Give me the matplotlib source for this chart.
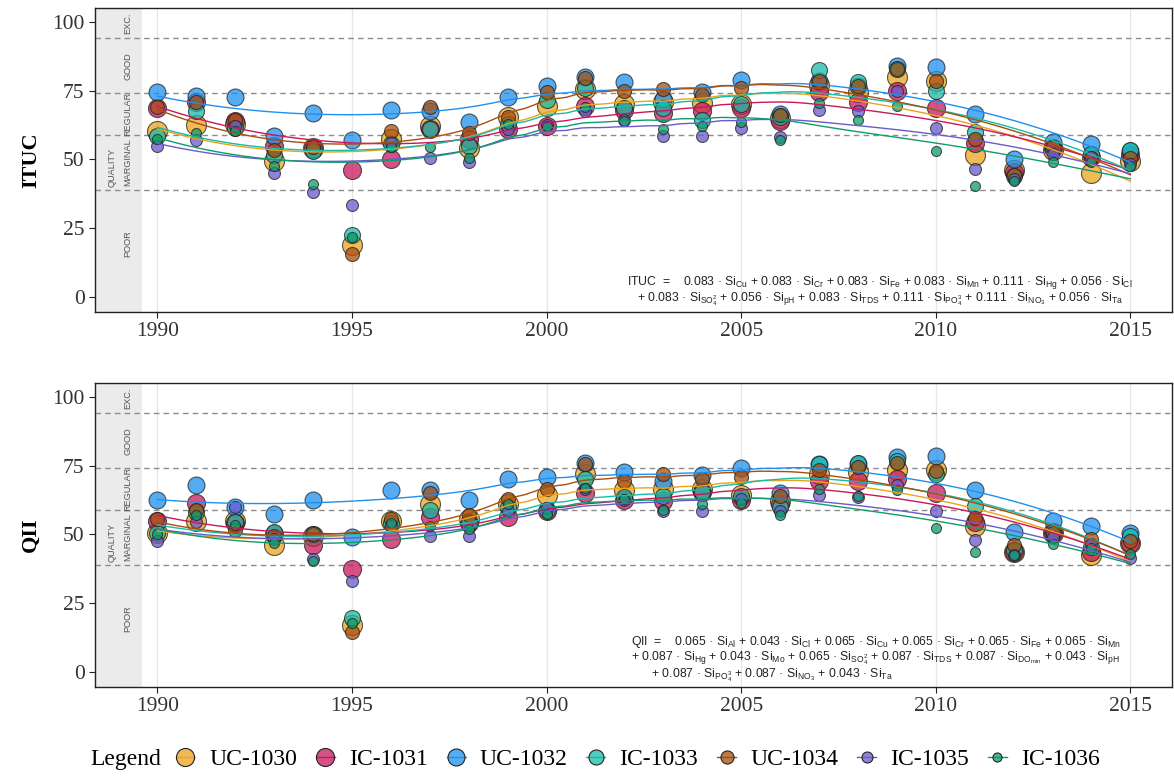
import numpy as np
import matplotlib

matplotlib.use("Agg")
import matplotlib.pyplot as plt
from matplotlib.lines import Line2D

plt.rcParams["mathtext.fontset"] = "custom"
plt.rcParams["mathtext.rm"] = "Liberation Sans"
plt.rcParams["mathtext.it"] = "Liberation Sans:italic"
plt.rcParams["mathtext.bf"] = "Liberation Sans:bold"

years = np.arange(1990, 2016)
stations = ["UC-1030", "IC-1031", "UC-1032", "IC-1033", "UC-1034", "IC-1035", "IC-1036"]
colors = ["#EBA31C", "#C8175D", "#1E90F0", "#17BBA8", "#A84E0E", "#6A5ACD", "#0E9D6A"]
point_sizes = [207, 168, 149, 133, 102, 74, 52]
legend_sizes = [13, 13, 12.2, 10.8, 9.4, 7.9, 6.5]

ituc_1030 = [60.5, 62.5, 63, 49.5, 54, 19, 57.5, 62, 54, 65.5, 69.5, 75.5, 70, 71, 70.5, 70, 65, 77, 74.5, 80, 78.5, 51.5, 46, 53.5, 45, 49.5]
ituc_1031 = [68.5, 71, 64, 55, 54, 46, 50, 61, 57.5, 61, 62, 69.5, 68, 67, 67.5, 68.5, 64, 74.5, 71, 75, 68.5, 56, 45.5, 54, 51, 51.5]
ituc_1032 = [74.5, 73, 72.5, 58.5, 67, 57, 68, 67.5, 63.5, 72.5, 76.5, 80, 78, 72, 74.5, 79, 66.5, 78.5, 76.5, 84, 83.5, 66.5, 50, 56.5, 55.5, 53]
ituc_1033 = [58.5, 67.5, 61.5, 51.5, 53, 22.5, 55.5, 61, 55, 63, 71.5, 76, 68.5, 68.5, 64.5, 70, 65.5, 82.5, 78, 83, 75, 60, 44, 54, 52, 53.5]
ituc_1034 = [69, 71, 64.5, 53.5, 54.5, 15.5, 60.5, 69, 59.5, 65.5, 74.5, 79.5, 75, 75.5, 73.5, 76, 66, 78.5, 76.5, 83, 78.5, 57.5, 44.5, 54.5, 50.5, 50.5]
ituc_1035 = [55, 57, 62, 45, 38, 33.5, 56, 50.5, 49, 61, 62.5, 67.5, 64.5, 58.5, 58.5, 61.5, 58, 68, 67.5, 75, 61.5, 46.5, 43, 52, 51, 48.5]
ituc_1036 = [57.5, 59.5, 60.5, 47.5, 41, 22, 54.5, 54.5, 50.5, 63, 62, 69, 64, 61, 62, 63.5, 57, 70.5, 64.5, 69.5, 53, 40.5, 42, 49, 49, 47.5]

qii_1030 = [50.5, 55, 55, 46, 49.5, 17, 55, 61, 55.5, 61, 64.5, 72, 66, 66.5, 66.5, 64.5, 62, 72, 72.5, 73.5, 73.5, 53, 43.5, 50.5, 42.5, 47]
qii_1031 = [55, 61.5, 54, 50, 46, 37.5, 48.5, 56.5, 54, 56.5, 58.5, 65, 62.5, 62, 65.5, 62.5, 61, 69.5, 69.5, 70, 65, 54.5, 43.5, 50.5, 43.5, 47]
qii_1032 = [62.5, 68, 60, 57.5, 62.5, 49, 66, 66, 62.5, 70, 71, 76, 72.5, 69.5, 71.5, 74, 65, 75.5, 75.5, 78, 78.5, 66, 51, 55, 53, 50.5]
qii_1033 = [50.5, 58, 54.5, 51, 50, 19.5, 54, 59, 54, 60, 59, 70, 63.5, 64, 65.5, 64, 60, 75.5, 76, 76.5, 72, 60.5, 44.5, 51, 45.5, 49.5]
qii_1034 = [55.5, 59, 51.5, 49.5, 50, 14.5, 55.5, 65, 57, 63, 66.5, 75.5, 69.5, 72, 70, 71, 64, 73.5, 74.5, 76, 73, 56, 46, 50.5, 48.5, 47.5]
qii_1035 = [47.5, 54.5, 60, 48.5, 41, 33, 53, 49.5, 49.5, 58.5, 59.5, 66.5, 62.5, 58.5, 58.5, 63, 58.5, 64.5, 63.5, 68, 58.5, 48, 42.5, 49, 46.5, 41.5]
qii_1036 = [50, 57, 53.5, 47, 40.5, 18, 54, 53, 52, 61, 57.5, 67, 63, 59, 61, 61.5, 57, 66.5, 64, 66, 52.5, 43.5, 42.5, 46.5, 45, 43]

ituc_series = [ituc_1030, ituc_1031, ituc_1032, ituc_1033, ituc_1034, ituc_1035, ituc_1036]
qii_series = [qii_1030, qii_1031, qii_1032, qii_1033, qii_1034, qii_1035, qii_1036]

thresholds = [94, 74, 59, 39]
quality_bands = [("EXC.", 99.5), ("GOOD", 84), ("REGULAR", 66.5), ("MARGINAL", 49), ("POOR", 19.5)]


def si(sub):
    return r"$\mathrm{Si}_{" + sub + "}$"


ituc_text = "\n".join([
    "ITUC  =    0.083 · " + si(r"\mathrm{Cu}") + " + 0.083 · " + si(r"\mathrm{Cr}")
    + " + 0.083 · " + si(r"\mathrm{Fe}") + " + 0.083 · " + si(r"\mathrm{Mn}")
    + " + 0.111 · " + si(r"\mathrm{Hg}") + " + 0.056 · " + si(r"\mathrm{Cl}"),
    "+ 0.083 · " + si(r"\mathrm{SO}_4^2") + " + 0.056 · " + si(r"\mathrm{pH}")
    + " + 0.083 · " + si(r"\mathrm{TDS}") + " + 0.111 · " + si(r"\mathrm{PO}_4^3")
    + " + 0.111 · " + si(r"\mathrm{NO}_3") + " + 0.056 · " + si(r"\mathrm{Ta}"),
])
qii_text = "\n".join([
    "QII  =    0.065 · " + si(r"\mathrm{Al}") + " + 0.043 · " + si(r"\mathrm{Cl}")
    + " + 0.065 · " + si(r"\mathrm{Cu}") + " + 0.065 · " + si(r"\mathrm{Cr}")
    + " + 0.065 · " + si(r"\mathrm{Fe}") + " + 0.065 · " + si(r"\mathrm{Mn}"),
    "+ 0.087 · " + si(r"\mathrm{Hg}") + " + 0.043 · " + si(r"\mathrm{Mo}")
    + " + 0.065 · " + si(r"\mathrm{SO}_4^2") + " + 0.087 · " + si(r"\mathrm{TDS}")
    + " + 0.087 · " + si(r"\mathrm{DO}_{\mathrm{min}}") + " + 0.043 · " + si(r"\mathrm{pH}"),
    "      + 0.087 · " + si(r"\mathrm{PO}_4^3") + " + 0.087 · " + si(r"\mathrm{NO}_3")
    + " + 0.043 · " + si(r"\mathrm{Ta}"),
])


def loess(x, y, xs, span=0.75):
    x = np.asarray(x, float)
    y = np.asarray(y, float)
    q = int(np.floor(len(x) * span))
    out = []
    for x0 in xs:
        d = np.abs(x - x0)
        h = np.sort(d)[q - 1]
        w = np.clip(1 - (d / h) ** 3, 0, None) ** 3
        X = np.vstack([np.ones_like(x), x - x0, (x - x0) ** 2]).T
        XtW = X.T * w
        beta = np.linalg.solve(XtW @ X, XtW @ y)
        out.append(beta[0])
    return np.array(out)


serif = "Liberation Serif"
sans = "Liberation Sans"
fig = plt.figure(figsize=(11.74, 7.81), dpi=100)
xlim = (1988.40, 2016.06)
xs = np.linspace(1990, 2015, 120)


def draw_panel(ax, series, ylabel, formula, fx, fy, ha, align):
    ax.set_xlim(*xlim)
    ax.set_ylim(-5.4, 105)
    ax.axvspan(xlim[0], 1989.62, color="#EBEBEB", zorder=0, lw=0)
    for gx in range(1990, 2016, 5):
        ax.axvline(gx, color="#E6E6E6", lw=0.9, zorder=0.5)
    for t in thresholds:
        ax.axhline(t, color="#8C8C8C", lw=1.0, ls=(0, (4, 3)), zorder=1)
    for label, yv in quality_bands:
        ax.text(1989.25, yv, label, rotation=90, ha="center", va="center",
                fontsize=6.6, color="#555555", family=sans, zorder=2)
    ax.text(1988.85, 47, "QUALITY", rotation=90, ha="center", va="center",
            fontsize=6.6, color="#555555", family=sans, zorder=2)

    for vals, col, s in zip(series, colors, point_sizes):
        ax.scatter(years, vals, s=s, color=col, alpha=0.75, edgecolor="#222222",
                   linewidth=0.8, zorder=3)
    for vals, col in zip(series, colors):
        ax.plot(xs, loess(years, vals, xs), color=col, lw=1.0, zorder=4)

    ax.set_xticks(range(1990, 2016, 5))
    ax.set_yticks([0, 25, 50, 75, 100])
    ax.tick_params(labelsize=15.5, colors="#222222", length=4, width=0.8)
    for lab in ax.get_xticklabels() + ax.get_yticklabels():
        lab.set_family(serif)
        lab.set_color("#333333")
    ax.set_ylabel(ylabel, family=serif, fontsize=16, fontweight="bold", labelpad=8)
    for sp in ax.spines.values():
        sp.set_linewidth(1.0)
        sp.set_color("#222222")

    ax.text(fx, fy, formula, ha=ha, va="center", multialignment=align, fontsize=8.8,
            family=sans, color="#222222", linespacing=0.95, zorder=5)


ax1 = fig.add_axes([0.0809, 0.6005, 0.9171, 0.3893])
ax2 = fig.add_axes([0.0809, 0.1204, 0.9171, 0.3892])
draw_panel(ax1, ituc_series, "ITUC", ituc_text, 2008.56, 2.4, "center", "center")
draw_panel(ax2, qii_series, "QII", qii_text, 2002.17, 4.7, "left", "left")

handles = [Line2D([0], [0], color=c, lw=1.0, marker="o", markersize=ms,
                  markerfacecolor=matplotlib.colors.to_rgba(c, 0.75),
                  markeredgecolor="#222222", markeredgewidth=0.8)
           for c, ms in zip(colors, legend_sizes)]
fig.text(0.0767, 0.028, "Legend", family=serif, fontsize=17, va="center", ha="left")
leg = fig.legend(handles, stations, loc="center left", bbox_to_anchor=(0.1499, 0.028),
                 ncol=7, frameon=False, handlelength=0.8, handletextpad=0.6,
                 columnspacing=0.8, borderpad=0, borderaxespad=0,
                 prop={"family": serif, "size": 17})

fig.savefig("out.png", dpi=100)
